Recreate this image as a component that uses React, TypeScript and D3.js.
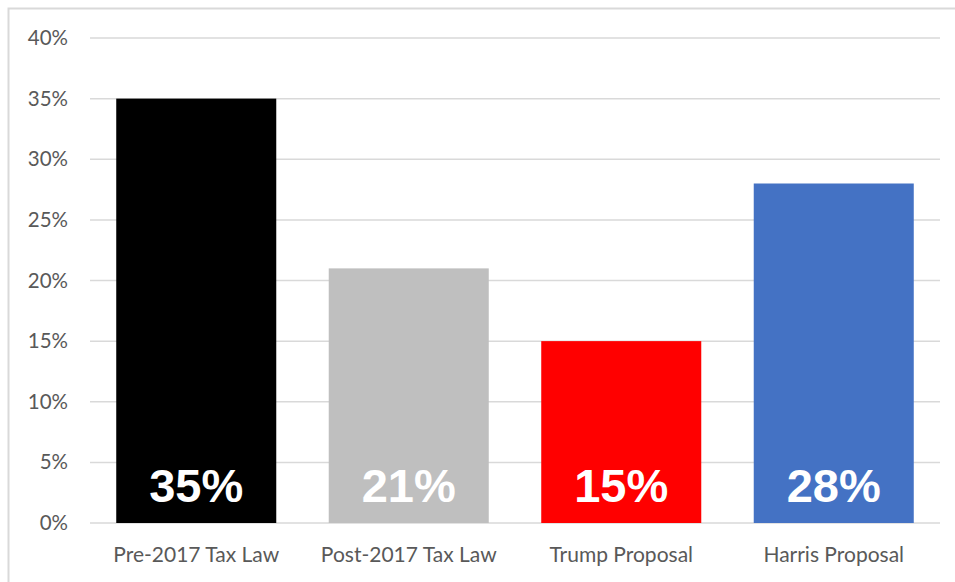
import React from "react";
import * as d3 from "d3";

const categories = ["Pre-2017 Tax Law", "Post-2017 Tax Law", "Trump Proposal", "Harris Proposal"];
const rates = [0.35, 0.21, 0.15, 0.28];
const barColors = ["#000000", "#bfbfbf", "#ff0000", "#4472c4"];
const ticks = [0, 0.05, 0.1, 0.15, 0.2, 0.25, 0.3, 0.35, 0.4];

export default function App() {
  const W = 955, H = 582;
  const x = d3.scaleBand<string>().domain(categories).range([90, 940]).paddingInner(0.247).paddingOuter(0.1235);
  const y = d3.scaleLinear().domain([0, 0.4]).range([523, 38]);
  const fmt = d3.format(".0%");
  return (
    <svg width={W} height={H} style={{ position: "absolute", left: 0, top: 0, background: "#fff" }}>
      <rect x={8.5} y={8.5} width={W + 20} height={H + 20} fill="#fff" stroke="#d9d9d9" strokeWidth={2} />
      {ticks.map((t) => (
        <g key={t}>
          <line x1={90} x2={940} y1={y(t)} y2={y(t)} stroke="#d9d9d9" strokeWidth={1.5} />
          <text x={68} y={y(t) + 7} textAnchor="end" fontFamily="Lato, 'Open Sans', sans-serif" fontSize={20.5} fill="#595959">
            {fmt(t)}
          </text>
        </g>
      ))}
      {categories.map((c, i) => (
        <g key={c}>
          <rect x={x(c)} y={y(rates[i])} width={x.bandwidth()} height={y(0) - y(rates[i])} fill={barColors[i]} />
          <text x={(x(c) as number) + x.bandwidth() / 2} y={502} textAnchor="middle" fontFamily="'Liberation Sans', Arial, sans-serif" fontWeight="bold" fontSize={47} fill="#fff">
            {fmt(rates[i])}
          </text>
          <text x={(x(c) as number) + x.bandwidth() / 2} y={562} textAnchor="middle" fontFamily="Lato, 'Open Sans', sans-serif" fontSize={21} fill="#595959">
            {c}
          </text>
        </g>
      ))}
    </svg>
  );
}
